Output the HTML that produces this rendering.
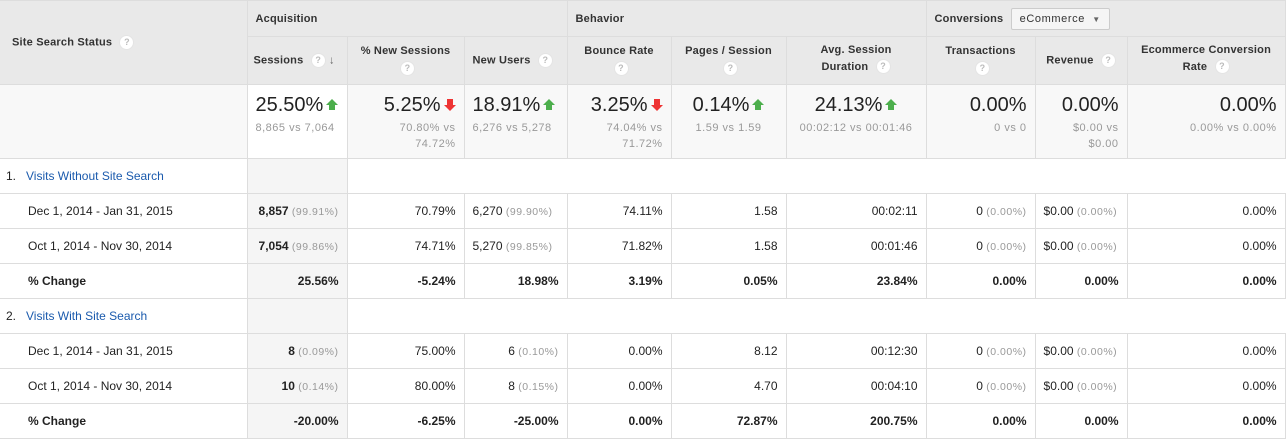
<!DOCTYPE html><html><head><style>
body{margin:0;width:1286px;height:445px;background:#fff;font-family:"Liberation Sans",Arial,sans-serif;font-size:12px;color:#222;overflow:hidden}
table{border-collapse:collapse;table-layout:fixed;width:1285px}
td,th{border:1px solid #ddd;padding:0 8px;box-sizing:border-box}
th{background:#e9e9e9;font-weight:bold;font-size:11px;color:#333;letter-spacing:.2px}
.g th{height:36px;text-align:left;vertical-align:middle}
.s th{height:48px;text-align:center}
.q{display:inline-block;width:13px;height:13px;border-radius:50%;background:#fff;color:#bbb;font-size:9px;line-height:13px;text-align:center;font-weight:bold;vertical-align:middle;margin-left:4px;border:1px solid #e4e4e4}
.sum td{height:74px;background:#f8f8f8;text-align:right;vertical-align:top;padding-top:9px}
.big{font-size:20px;color:#222}
.sm{font-size:11px;color:#999;letter-spacing:.5px;line-height:16px;margin-top:3px}
.up{display:inline-block;width:0;height:0;border-left:6px solid transparent;border-right:6px solid transparent;border-bottom:6px solid #4cae4c;position:relative;top:-6px;margin-left:3px}
.up:after{content:"";position:absolute;left:-3px;top:6px;width:6px;height:5px;background:#4cae4c}
.dn{display:inline-block;width:0;height:0;border-left:6px solid transparent;border-right:6px solid transparent;border-top:6px solid #e33;position:relative;top:0;margin-left:3px}
.dn:after{content:"";position:absolute;left:-3px;top:-12px;width:6px;height:6px;background:#e33}
.r td{height:35px;text-align:right}
.r td:first-child{text-align:left;padding-left:28px}
.r td:nth-child(2){background:#f5f5f5}
.r td:nth-child(4),.r td:nth-child(8),.r td:nth-child(9){text-align:left}
.p{color:#999;font-size:10.5px;letter-spacing:.5px}
.b td{font-weight:bold}
.lab td{height:35px}
.lab a{color:#1a5aad;text-decoration:none}
</style></head><body>
<table>
<colgroup><col style="width:247px"><col style="width:100px"><col style="width:117px"><col style="width:103px"><col style="width:104px"><col style="width:115px"><col style="width:140px"><col style="width:109px"><col style="width:92px"><col style="width:158px"></colgroup>
<tr class="g"><th rowspan="2" style="padding-left:12px;border-left:none">Site Search Status <span class="q">?</span></th><th colspan="3">Acquisition</th><th colspan="3">Behavior</th><th colspan="3">Conversions <span style="display:inline-block;margin-left:4px;border:1px solid #ccc;background:#f5f5f5;font-weight:normal;padding:4px 8px;font-size:11px;border-radius:2px;letter-spacing:.6px">eCommerce &nbsp;<span style="font-size:8px;color:#666">▼</span></span></th></tr>
<tr class="s"><th style="text-align:left;white-space:nowrap;padding:0 6px">Sessions <span class="q">?</span> <span style="color:#666">↓</span></th><th>% New Sessions<br><span class="q" style="margin-top:4px">?</span></th><th style="text-align:left">New Users <span class="q">?</span></th><th>Bounce Rate<br><span class="q" style="margin-top:4px">?</span></th><th>Pages / Session<br><span class="q" style="margin-top:4px">?</span></th><th>Avg. Session<br><span style="line-height:22px">Duration</span> <span class="q">?</span></th><th>Transactions<br><span class="q" style="margin-top:4px">?</span></th><th>Revenue <span class="q">?</span></th><th>Ecommerce Conversion<br><span style="line-height:22px">Rate</span> <span class="q">?</span></th></tr>
<tr class="sum"><td style="border-left:none"></td>
<td style="background:#fff;text-align:left"><span class="big">25.50%</span><span class="up"></span><div class="sm">8,865 vs 7,064</div></td>
<td><span class="big">5.25%</span><span class="dn"></span><div class="sm">70.80% vs<br>74.72%</div></td>
<td style="text-align:left"><span class="big">18.91%</span><span class="up"></span><div class="sm">6,276 vs 5,278</div></td>
<td><span class="big">3.25%</span><span class="dn"></span><div class="sm">74.04% vs<br>71.72%</div></td>
<td style="text-align:center"><span class="big">0.14%</span><span class="up"></span><div class="sm">1.59 vs 1.59</div></td>
<td style="text-align:center"><span class="big">24.13%</span><span class="up"></span><div class="sm">00:02:12 vs 00:01:46</div></td>
<td><span class="big">0.00%</span><div class="sm">0 vs 0</div></td>
<td><span class="big">0.00%</span><div class="sm">$0.00 vs<br>$0.00</div></td>
<td><span class="big">0.00%</span><div class="sm">0.00% vs 0.00%</div></td></tr>
<tr class="lab"><td style="padding-left:6px;border-left:none">1. &nbsp;&nbsp;<a>Visits Without Site Search</a></td><td style="background:#f5f5f5"></td><td colspan="8" style="border-left:1px solid #ddd;border-right:none"></td></tr>
<tr class="r"><td style="border-left:none">Dec 1, 2014 - Jan 31, 2015</td><td><b>8,857</b> <span class="p">(99.91%)</span></td><td>70.79%</td><td>6,270 <span class="p">(99.90%)</span></td><td>74.11%</td><td>1.58</td><td>00:02:11</td><td style="text-align:right">0 <span class="p">(0.00%)</span></td><td>$0.00 <span class="p">(0.00%)</span></td><td>0.00%</td></tr>
<tr class="r"><td style="border-left:none">Oct 1, 2014 - Nov 30, 2014</td><td><b>7,054</b> <span class="p">(99.86%)</span></td><td>74.71%</td><td>5,270 <span class="p">(99.85%)</span></td><td>71.82%</td><td>1.58</td><td>00:01:46</td><td style="text-align:right">0 <span class="p">(0.00%)</span></td><td>$0.00 <span class="p">(0.00%)</span></td><td>0.00%</td></tr>
<tr class="r b"><td style="border-left:none">% Change</td><td>25.56%</td><td>-5.24%</td><td style="text-align:right">18.98%</td><td>3.19%</td><td>0.05%</td><td>23.84%</td><td style="text-align:right">0.00%</td><td style="text-align:right">0.00%</td><td>0.00%</td></tr>
<tr class="lab"><td style="padding-left:6px;border-left:none">2. &nbsp;&nbsp;<a>Visits With Site Search</a></td><td style="background:#f5f5f5"></td><td colspan="8" style="border-right:none"></td></tr>
<tr class="r"><td style="border-left:none">Dec 1, 2014 - Jan 31, 2015</td><td><b>8</b> <span class="p">(0.09%)</span></td><td>75.00%</td><td style="text-align:right">6 <span class="p">(0.10%)</span></td><td>0.00%</td><td>8.12</td><td>00:12:30</td><td style="text-align:right">0 <span class="p">(0.00%)</span></td><td>$0.00 <span class="p">(0.00%)</span></td><td>0.00%</td></tr>
<tr class="r"><td style="border-left:none">Oct 1, 2014 - Nov 30, 2014</td><td><b>10</b> <span class="p">(0.14%)</span></td><td>80.00%</td><td style="text-align:right">8 <span class="p">(0.15%)</span></td><td>0.00%</td><td>4.70</td><td>00:04:10</td><td style="text-align:right">0 <span class="p">(0.00%)</span></td><td>$0.00 <span class="p">(0.00%)</span></td><td>0.00%</td></tr>
<tr class="r b"><td style="border-left:none">% Change</td><td>-20.00%</td><td>-6.25%</td><td style="text-align:right">-25.00%</td><td>0.00%</td><td>72.87%</td><td>200.75%</td><td style="text-align:right">0.00%</td><td style="text-align:right">0.00%</td><td>0.00%</td></tr>
</table>
</body></html>
